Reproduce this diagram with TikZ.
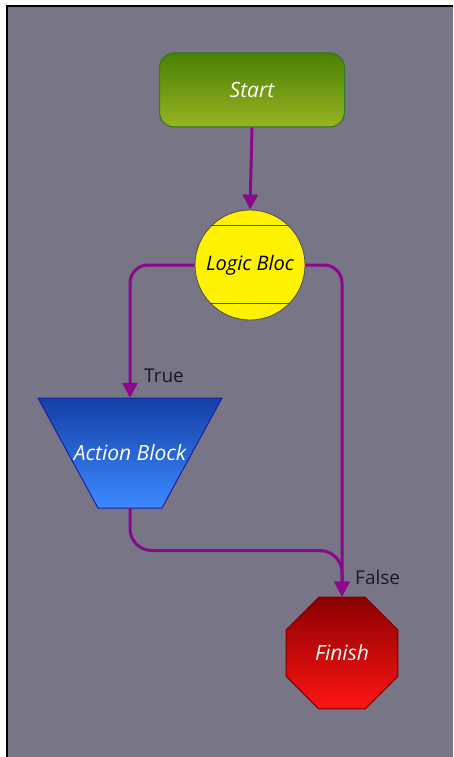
\documentclass[tikz,border=0pt]{standalone}
\usepackage{fontspec}
\setmainfont{Open Sans}
\usetikzlibrary{shapes.geometric,arrows.meta,calc}
\definecolor{bggrey}{RGB}{119,117,134}
\definecolor{conn}{RGB}{137,8,140}
\definecolor{gtop}{RGB}{74,128,4}
\definecolor{gbot}{RGB}{152,180,34}
\definecolor{gbrd}{RGB}{46,122,30}
\definecolor{btop}{RGB}{20,64,168}
\definecolor{bbot}{RGB}{60,138,255}
\definecolor{bbrd}{RGB}{30,30,170}
\definecolor{rtop}{RGB}{139,0,0}
\definecolor{rbot}{RGB}{255,20,20}
\definecolor{rbrd}{RGB}{120,0,0}
\definecolor{lbltxt}{RGB}{25,25,40}
\tikzset{
  blocktext/.style={font=\fontsize{21}{24}\selectfont\itshape, text=white},
  startbox/.style={rectangle, rounded corners=15pt, minimum width=185pt, minimum height=74pt, inner sep=0pt,
    top color=gtop, bottom color=gbot, draw=gbrd, line width=1pt, blocktext},
  logicbox/.style={circle, minimum size=110pt, inner sep=0pt, fill=yellow, draw=black!70, line width=0.8pt,
    font=\fontsize{20}{24}\selectfont\itshape, text=black},
  actionbox/.style={rectangle, minimum width=184pt, minimum height=110pt, inner sep=0pt, blocktext},
  actionshape/.style={top color=btop, bottom color=bbot, draw=bbrd, line width=1pt},
  finishbox/.style={regular polygon, regular polygon sides=8, minimum size=121pt, inner sep=0pt,
    top color=rtop, bottom color=rbot, draw=rbrd, line width=1pt, blocktext},
  connector/.style={draw=conn, line width=3pt, -{Triangle[width=15pt,length=15pt]}, rounded corners=18pt},
  edgelabel/.style={font=\fontsize{19}{22}\selectfont, text=lbltxt, inner sep=0pt, anchor=west},
}
\begin{document}
\begin{tikzpicture}[x=1pt,y=-1pt]
  \useasboundingbox (0,0) rectangle (453,757);
  \fill[white] (0,0) rectangle (453,757);
  \fill[black] (6,5) rectangle (453,757);
  \fill[bggrey] (8,7) rectangle (453,757);

  \node[startbox] (start) at (252,90) {Start};
  \node[logicbox] (logic) at (250,265) {Logic Bloc};
  \begin{scope}
    \clip (logic.center) circle (55pt);
    \draw[black!70, line width=0.8pt] (190,225) -- (310,225);
    \draw[black!70, line width=0.8pt] (190,303) -- (310,303);
  \end{scope}
  \path[actionshape] (38,398) -- (222,398) -- (162,508) -- (98,508) -- cycle;
  \node[actionbox] (action) at (130,453) {Action Block};
  \node[finishbox] (finish) at (342,653) {Finish};

  \draw[connector] (start.south) -- (logic.north);
  \draw[connector] (logic.west) -| (action.north);
  \draw[connector] (logic.east) -| (finish.north);
  \draw[connector, rounded corners=22pt] (action.south) |- ([yshift=46pt]finish.north) -- (finish.north);

  \node[edgelabel] (truelbl) at (144,376) {True};
  \node[edgelabel] (falselbl) at (355,577) {False};
\end{tikzpicture}
\end{document}
